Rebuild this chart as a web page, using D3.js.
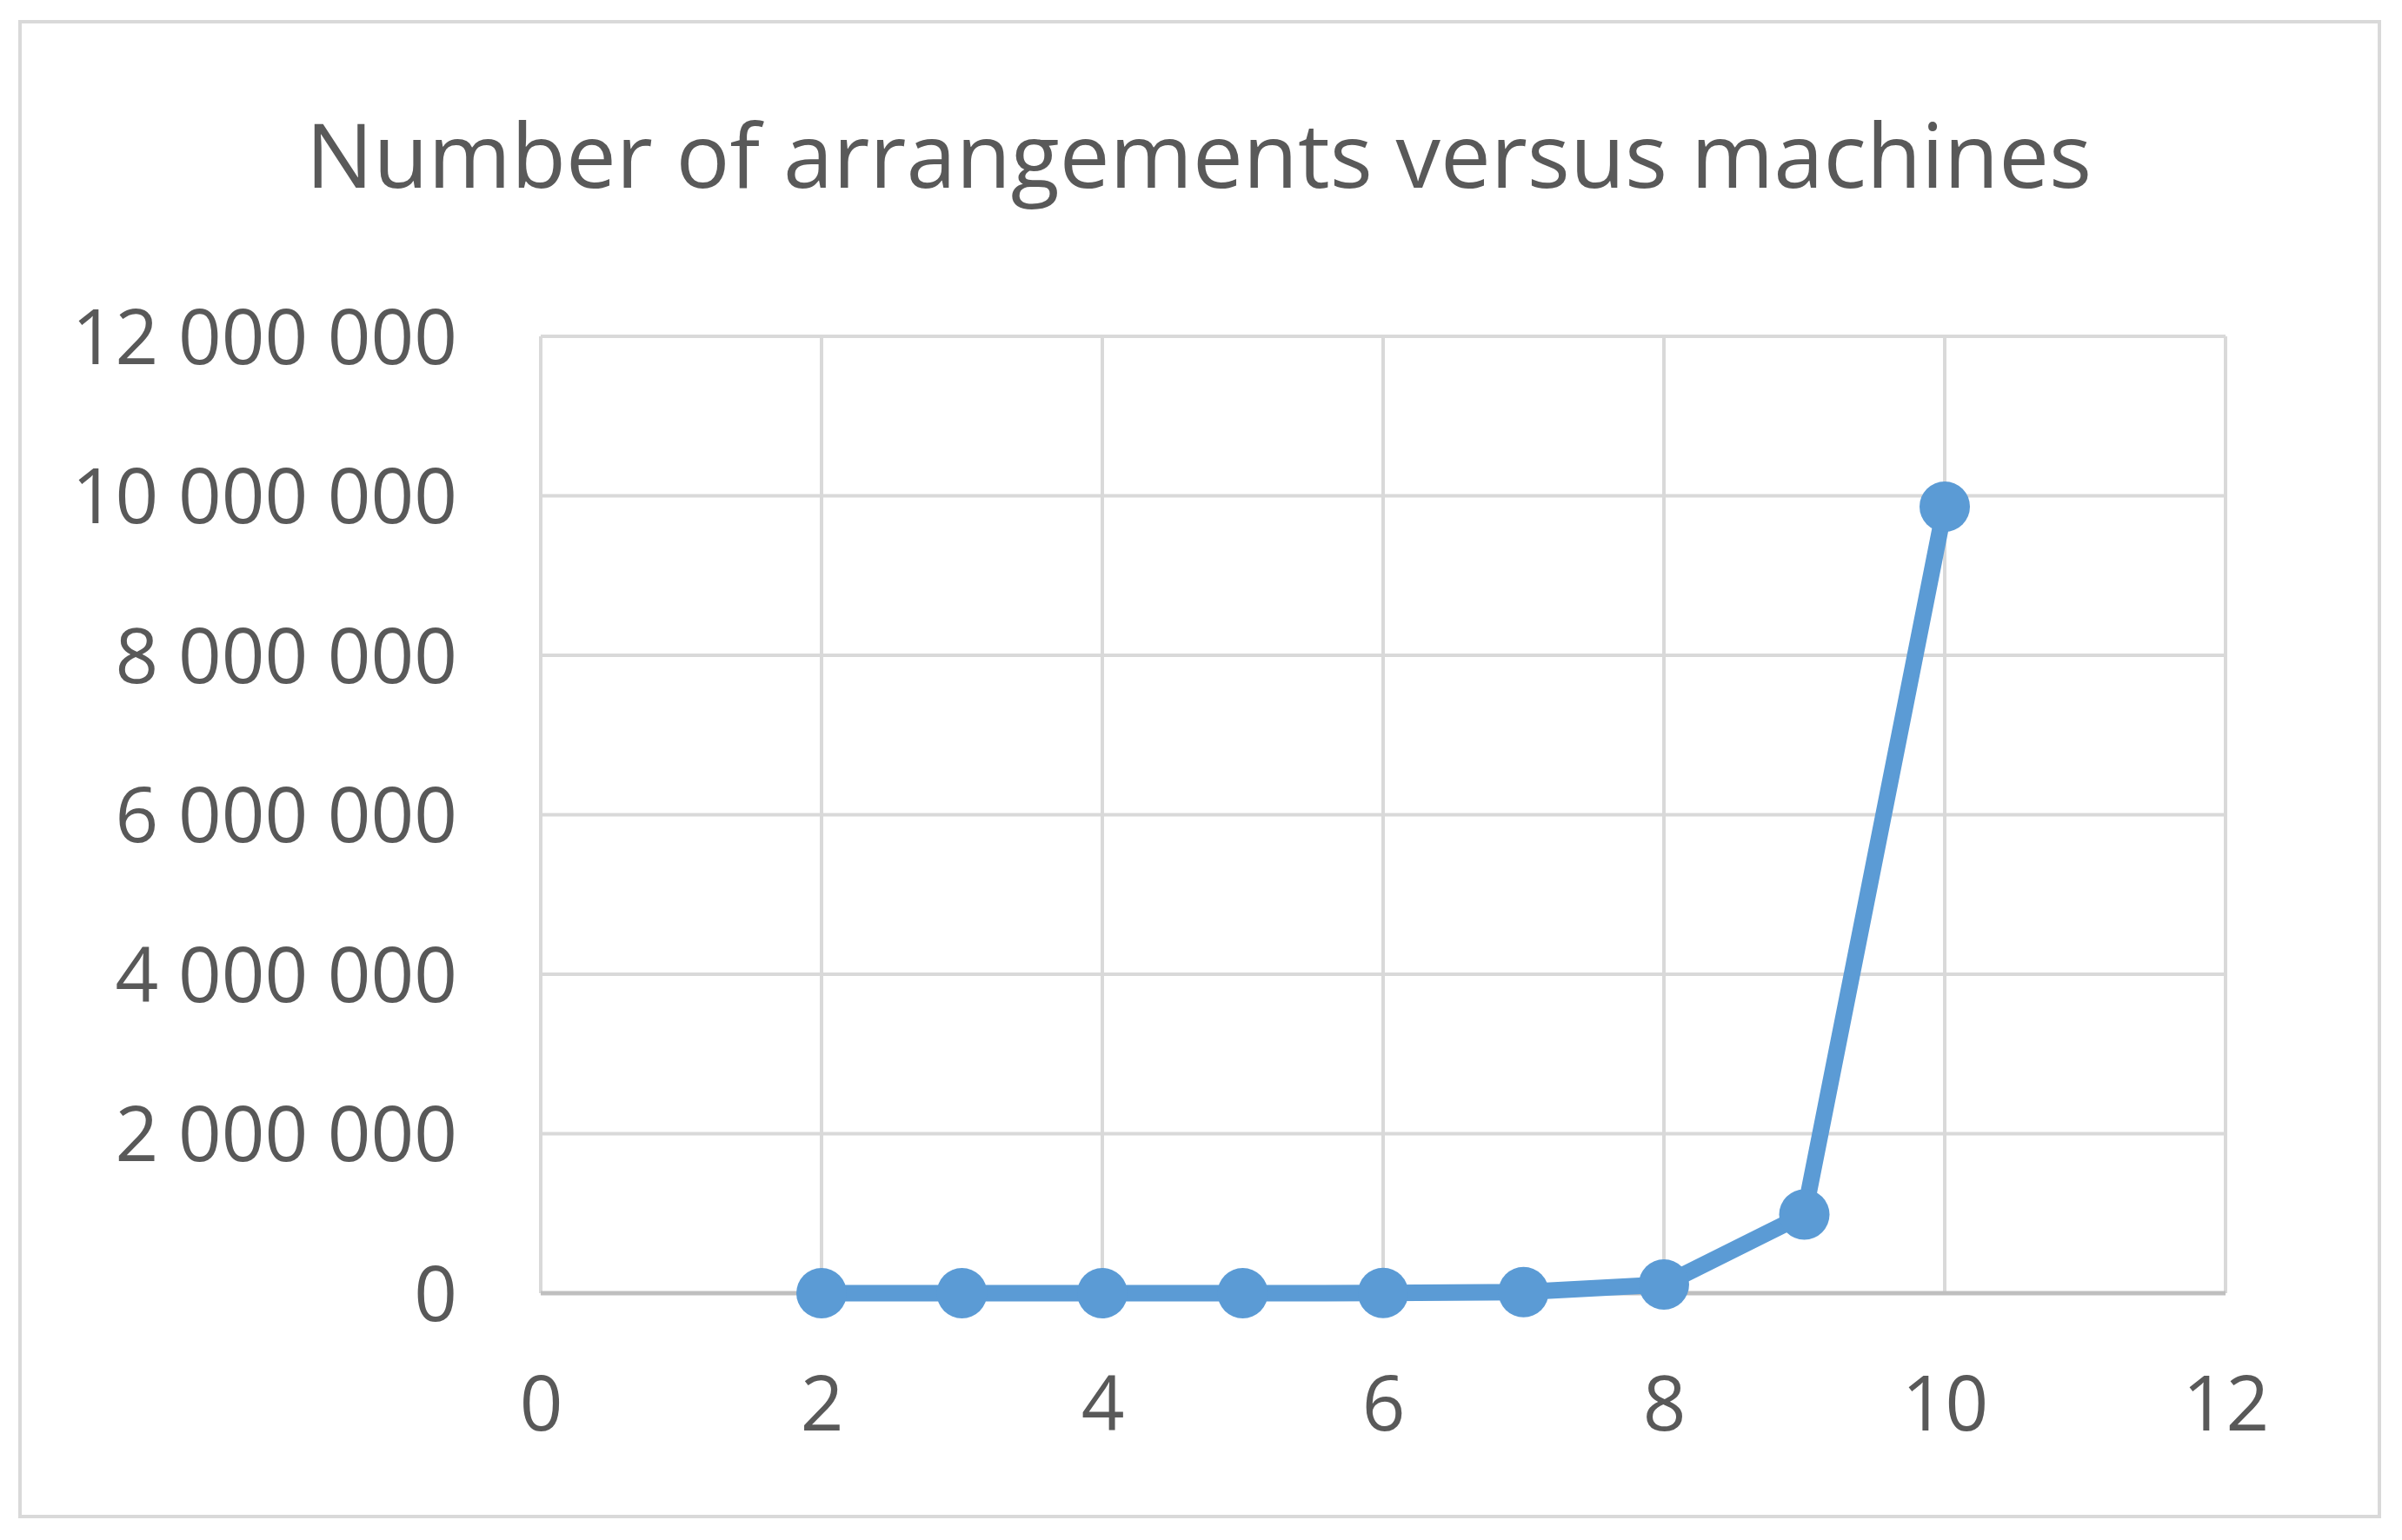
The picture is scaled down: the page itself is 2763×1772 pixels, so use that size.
<!doctype html>
<html>
<head>
    <meta charset="UTF-8">
    <title>Number of arrangements versus machines</title>
    <script src="https://cdn.jsdelivr.net/npm/d3@7"></script>
    <style>
        body { margin: 0; background: #fff; }
        .title { font-family: "Open Sans", sans-serif; font-size: 103px; fill: #595959; text-anchor: middle; }
        .tick text { font-family: "Open Sans", sans-serif; font-size: 87px; fill: #595959; }
    </style>
</head>
<body>
<script>
    var machines = [2, 3, 4, 5, 6, 7, 8, 9, 10];
    var arrangements = [5, 16, 65, 326, 1957, 13700, 109601, 986410, 9864101];
    var xTicks = [0, 2, 4, 6, 8, 10, 12];
    var yTicks = [0, 2000000, 4000000, 6000000, 8000000, 10000000, 12000000];

    var W = 2763, H = 1772;
    var margin = { left: 622, right: 203, top: 387, bottom: 284 };
    var width = W - margin.left - margin.right,
        height = H - margin.top - margin.bottom;

    var svg = d3.select("body").append("svg")
        .attr("width", W)
        .attr("height", H);

    // chart border
    svg.append("rect")
        .attr("x", 23).attr("y", 25)
        .attr("width", 2714).attr("height", 1720)
        .style("fill", "#fff")
        .style("stroke", "#d9d9d9")
        .style("stroke-width", 4);

    svg.append("text")
        .attr("class", "title")
        .attr("x", 1379)
        .attr("y", 216)
        .text("Number of arrangements versus machines");

    var g = svg.append("g")
        .attr("transform", "translate(" + margin.left + "," + margin.top + ")");

    var x = d3.scaleLinear().domain([0, 12]).range([0, width]);
    var y = d3.scaleLinear().domain([0, 12000000]).range([height, 0]);

    var fmt = function (d) { return d3.format(",")(d).replace(/,/g, " "); };

    // gridlines
    g.selectAll(".hgrid")
        .data(yTicks.filter(function (d) { return d > 0; }))
        .enter().append("line")
        .attr("x1", 0).attr("x2", width)
        .attr("y1", function (d) { return y(d); })
        .attr("y2", function (d) { return y(d); })
        .style("stroke", "#d9d9d9").style("stroke-width", 4);

    g.selectAll(".vgrid")
        .data(xTicks)
        .enter().append("line")
        .attr("x1", function (d) { return x(d); })
        .attr("x2", function (d) { return x(d); })
        .attr("y1", 0).attr("y2", height)
        .style("stroke", "#d9d9d9").style("stroke-width", 4);

    // baseline
    g.append("line")
        .attr("x1", 0).attr("x2", width)
        .attr("y1", y(0)).attr("y2", y(0))
        .style("stroke", "#bfbfbf").style("stroke-width", 5);

    var yAxis = g.append("g")
        .call(d3.axisLeft(y).tickValues(yTicks).tickFormat(fmt).tickSize(0).tickPadding(96));
    yAxis.select(".domain").remove();
    yAxis.selectAll("text").attr("dy", "0.36em");

    var xAxis = g.append("g")
        .attr("transform", "translate(0," + height + ")")
        .call(d3.axisBottom(x).tickValues(xTicks).tickSize(0).tickPadding(96));
    xAxis.select(".domain").remove();
    xAxis.selectAll("text").attr("dy", "0.71em");

    var line = d3.line()
        .x(function (d, i) { return x(machines[i]); })
        .y(function (d) { return y(d); });

    g.append("path")
        .datum(arrangements)
        .attr("d", line)
        .style("fill", "none")
        .style("stroke", "#5b9bd5")
        .style("stroke-width", 19)
        .style("stroke-linejoin", "round");

    g.selectAll(".dot")
        .data(arrangements)
        .enter().append("circle")
        .attr("cx", function (d, i) { return x(machines[i]); })
        .attr("cy", function (d) { return y(d); })
        .attr("r", 29)
        .style("fill", "#5b9bd5");
</script>
</body>
</html>
